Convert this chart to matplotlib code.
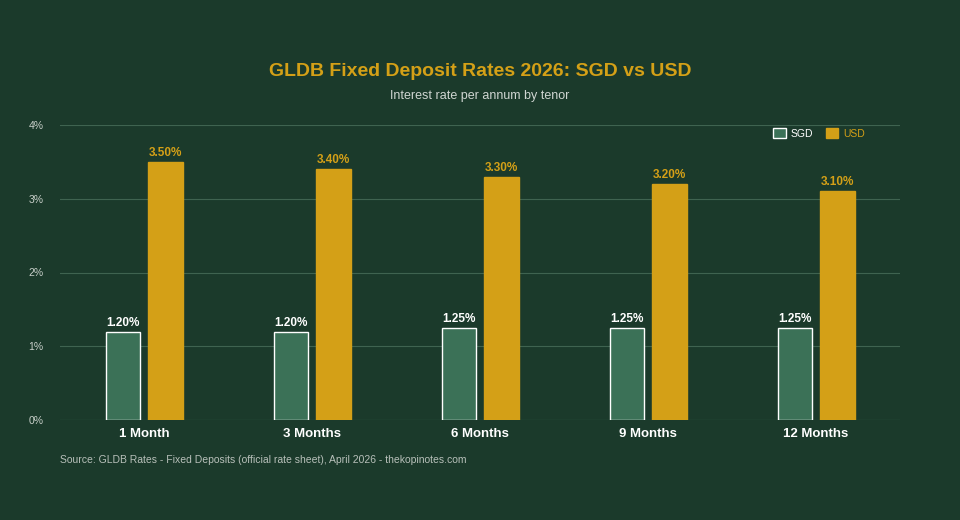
import matplotlib
matplotlib.use("Agg")
import matplotlib.pyplot as plt
import numpy as np

plt.rcParams['font.family'] = ['Liberation Sans', 'DejaVu Sans']

categories = ["1 Month", "3 Months", "6 Months", "9 Months", "12 Months"]
sgd = [1.20, 1.20, 1.25, 1.25, 1.25]
usd = [3.50, 3.40, 3.30, 3.20, 3.10]
yticks = [0, 1, 2, 3, 4]

BG = "#1b3a2b"
SGD_C = "#3b7157"
USD_C = "#d4a017"
GRID = "#3f6350"

fig = plt.figure(figsize=(9.6, 5.2), dpi=100, facecolor=BG)
ax = fig.add_axes([60/960, 1-420/520, 840/960, 295/520], facecolor=BG)

x = np.arange(len(categories))
w = 0.205
ax.bar(x - 0.125, sgd, w, color=SGD_C, edgecolor="white", linewidth=1, label="SGD", zorder=3)
ax.bar(x + 0.128, usd, w, color=USD_C, edgecolor=USD_C, linewidth=1, label="USD", zorder=3)

for xi, v in zip(x, sgd):
    ax.text(xi - 0.125, v + 0.04, f"{v:.2f}%", ha="center", va="bottom", color="white", fontsize=8.5, fontweight="bold")
for xi, v in zip(x, usd):
    ax.text(xi + 0.128, v + 0.04, f"{v:.2f}%", ha="center", va="bottom", color=USD_C, fontsize=8.5, fontweight="bold")

ax.set_xlim(-0.5, len(categories) - 0.5)
ax.set_ylim(0, 4)
ax.set_yticks(yticks)
ax.set_yticklabels([f"{t}%" for t in yticks], color="#c8cfc9", fontsize=7.5)
ax.set_xticks(x)
ax.set_xticklabels(categories, color="white", fontsize=9.5, fontweight="bold")
ax.tick_params(axis="both", length=0, pad=6)
ax.tick_params(axis="y", pad=12)
ax.grid(axis="y", color=GRID, linewidth=0.8, zorder=0)
for s in ax.spines.values():
    s.set_visible(False)
ax.axhline(0, color=GRID, linewidth=0.8, zorder=2)

leg = ax.legend(loc="upper right", bbox_to_anchor=(0.97, 1.02), ncol=2, frameon=False,
                fontsize=7.5, handlelength=1.2, handleheight=1.0, columnspacing=1.2, handletextpad=0.5)
leg.get_texts()[0].set_color("white")
leg.get_texts()[1].set_color(USD_C)

fig.text(480/960, 1-72/520, "GLDB Fixed Deposit Rates 2026: SGD vs USD", ha="center", va="center",
         color=USD_C, fontsize=14, fontweight="bold")
fig.text(480/960, 1-96/520, "Interest rate per annum by tenor", ha="center", va="center",
         color="#d0d6d2", fontsize=9)
fig.text(60/960, 1-460/520, "Source: GLDB Rates - Fixed Deposits (official rate sheet), April 2026 - thekopinotes.com",
         ha="left", va="center", color="#b8c0ba", fontsize=7.5)

fig.savefig("out.png", dpi=100, facecolor=BG)
